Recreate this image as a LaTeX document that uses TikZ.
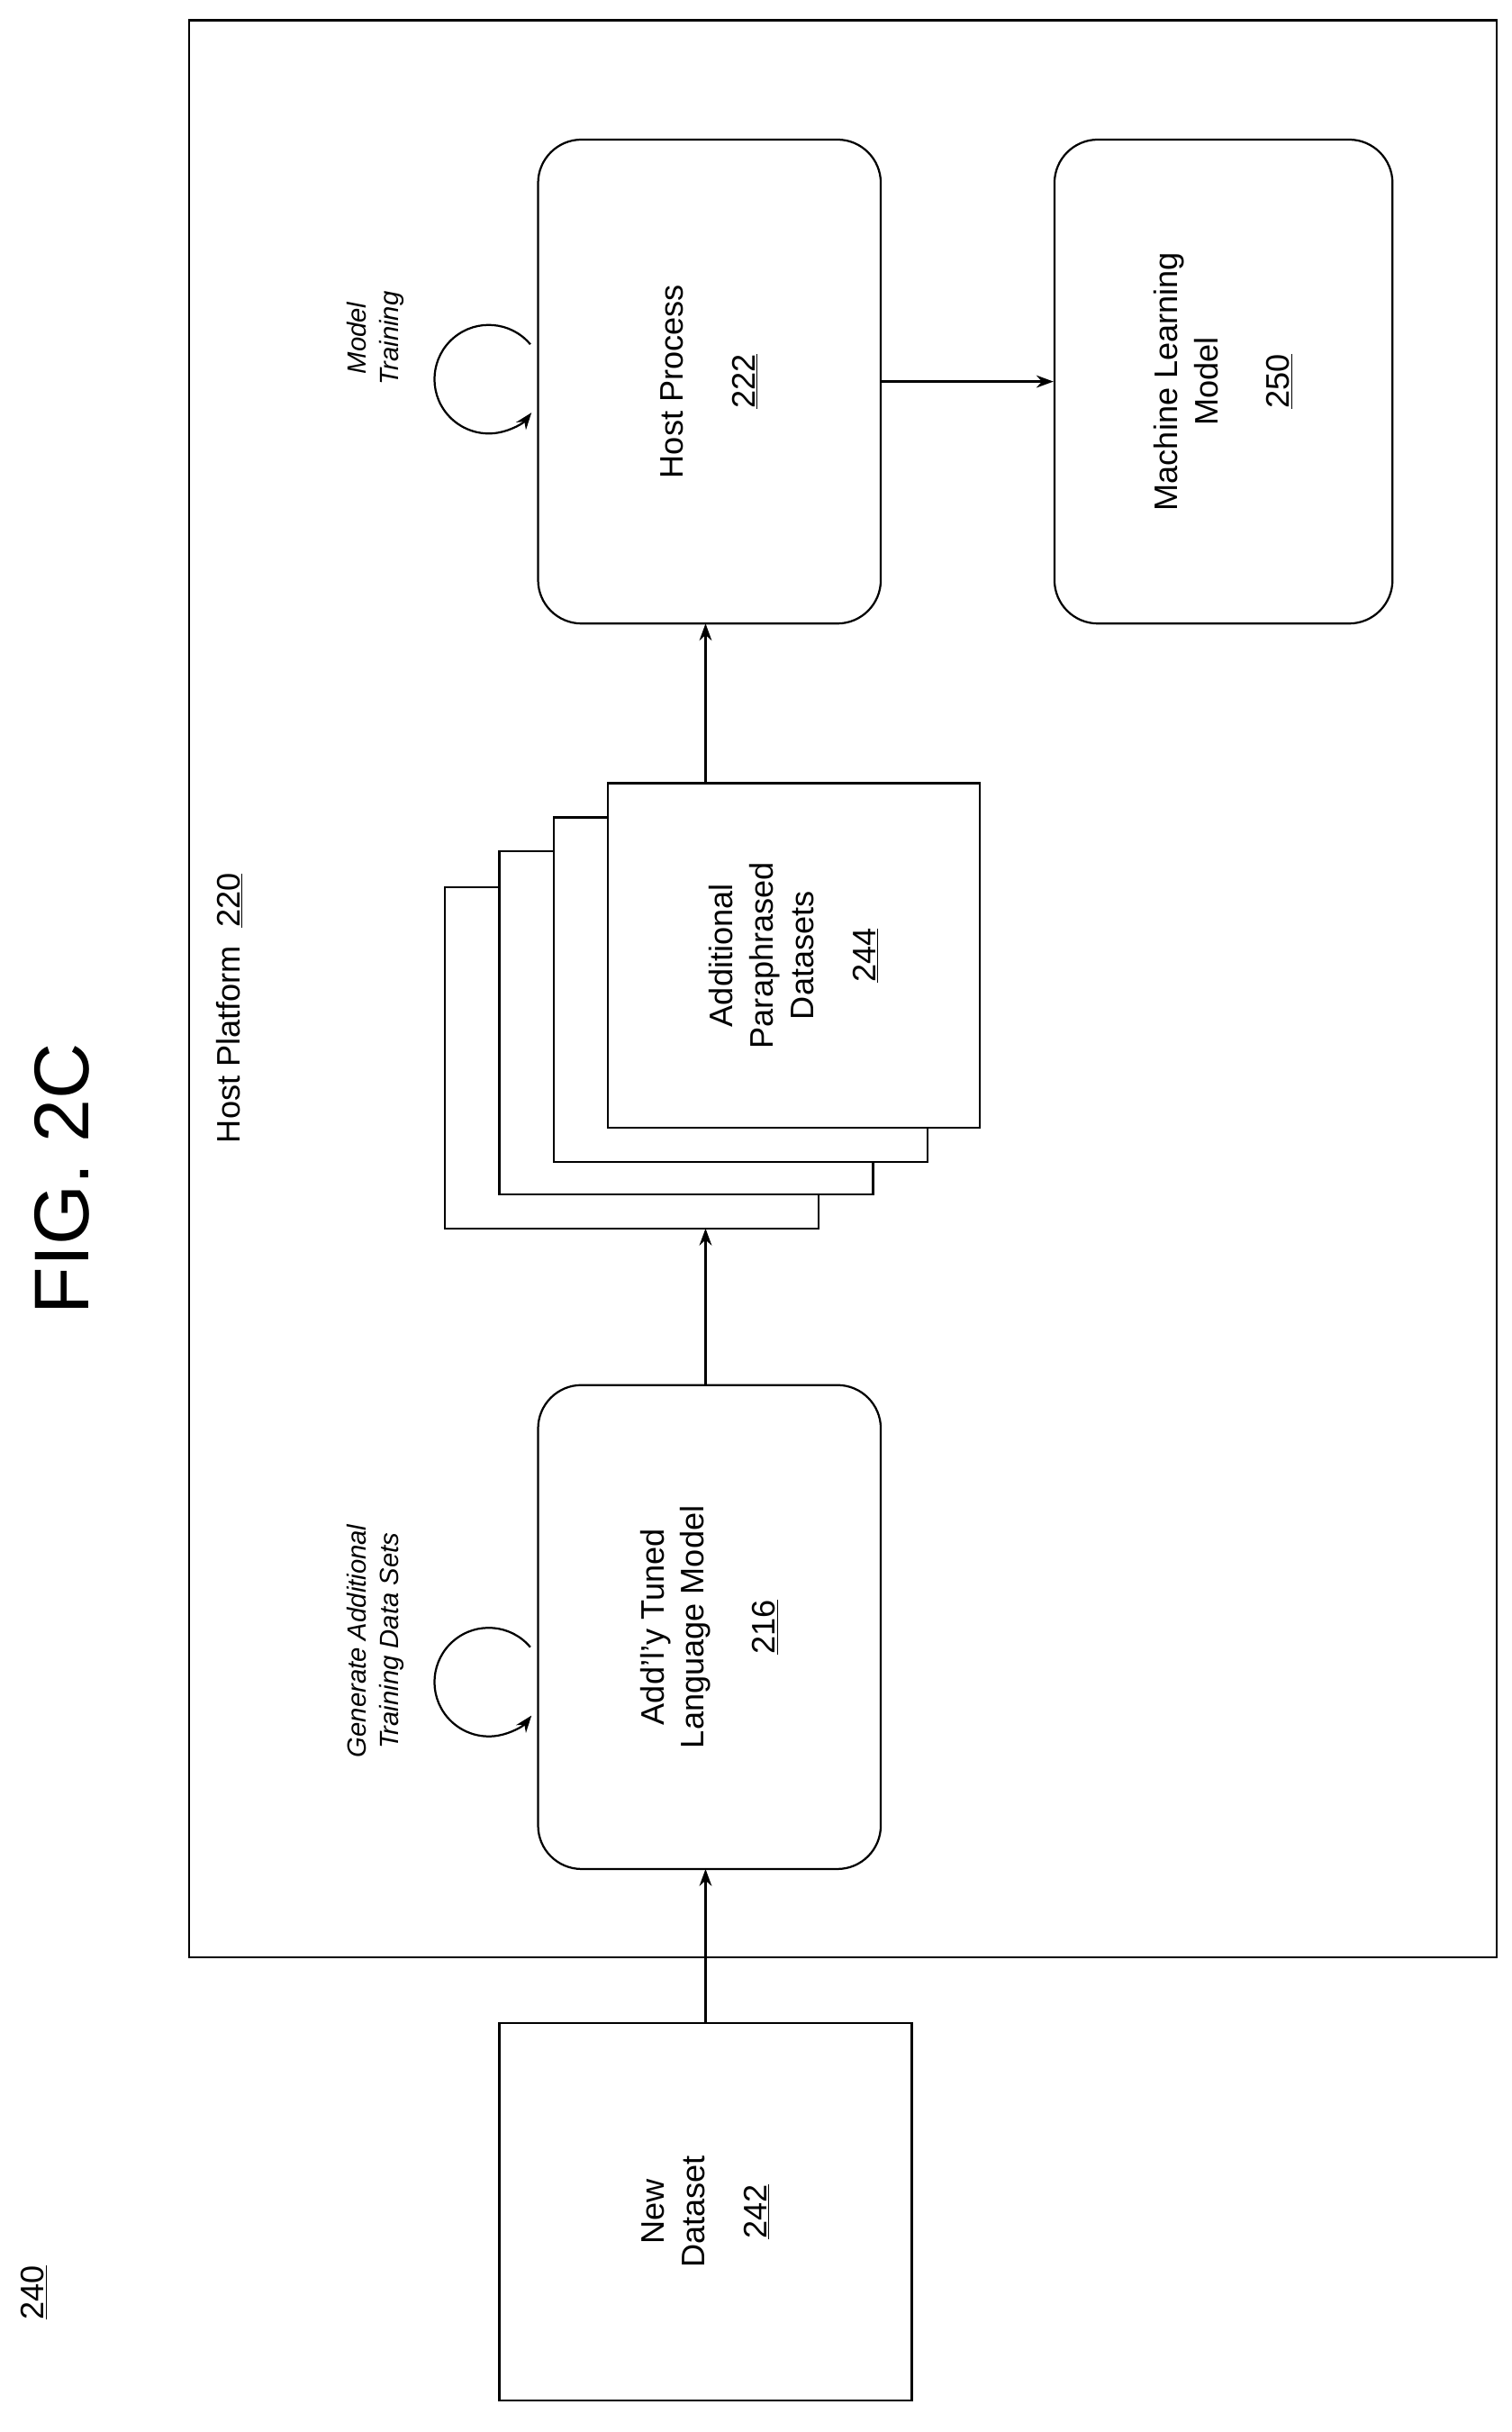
\documentclass[tikz,border=0pt]{standalone}
\usepackage{fontspec}
\setmainfont{Liberation Sans}
\usetikzlibrary{arrows.meta}
\begin{document}
\begin{tikzpicture}[x=1pt,y=-1pt,
  box/.style={draw,line width=1.3pt,fill=white},
  rbox/.style={box,rounded corners=28pt},
  lbl/.style={rotate=90,align=center,font=\fontsize{21}{26}\selectfont},
  ital/.style={rotate=90,align=center,font=\itshape\fontsize{17}{21}\selectfont},
  arr/.style={-{Stealth[length=11pt,width=8pt]},line width=1.3pt}]
\useasboundingbox (0,0) rectangle (975,1568);
\draw[line width=1.3pt] (122,13) rectangle (965,1262);
\node[rotate=90,font=\fontsize{50}{60}\selectfont] (fig) at (40,760) {FIG. 2C};
\node[lbl] (n240) at (22,1478) {\underline{240}};
\node[lbl,anchor=center] (hp) at (148,650) {Host Platform\ \ \underline{220}};
% stacked datasets
\draw[box] (287,572) rectangle (528,792);
\draw[box] (322,549) rectangle (563,770);
\draw[box] (357,527) rectangle (598,749);
\node[box,minimum width=240pt,minimum height=222pt] (ds) at (512,616) {};
\node[lbl] at (ds.center) {Additional\\Paraphrased\\Datasets\\[14pt]\underline{244}};
\coordinate (stackbot) at (455,792);
\node[box,minimum width=266pt,minimum height=243pt] (nd) at (455,1426) {};
\node[lbl] at (nd.center) {New\\Dataset\\[14pt]\underline{242}};
\node[rbox,minimum width=221pt,minimum height=312pt] (al) at (457.5,1049) {};
\node[lbl] at (al.center) {Add'l'y Tuned\\Language Model\\[20pt]\underline{216}};
\node[rbox,minimum width=221pt,minimum height=312pt] (hpr) at (457.5,246) {};
\node[lbl] at (hpr.center) {Host Process\\[20pt]\underline{222}};
\node[rbox,minimum width=218pt,minimum height=312pt] (ml) at (789,246) {};
\node[lbl] at (ml.center) {Machine Learning\\Model\\[20pt]\underline{250}};
\coordinate (a1) at (455,1205);
\coordinate (a2) at (455,893);
\coordinate (a3) at (455,505);
\coordinate (a4) at (455,402);
\draw[arr] (nd.north) -- (a1);
\draw[arr] (a2) -- (stackbot);
\draw[arr] (a3) -- (a4);
\draw[arr] (hpr.east) -- (ml.west);
% loops
\draw[arr] (342,1062) arc[start angle=-40,end angle=-322,radius=35];
\draw[arr] (342,222) arc[start angle=-40,end angle=-322,radius=35];
\node[ital] (g) at (242,1058) {Generate Additional\\Training Data Sets};
\node[ital] (m) at (242,218) {Model\\Training};
\end{tikzpicture}
\end{document}
